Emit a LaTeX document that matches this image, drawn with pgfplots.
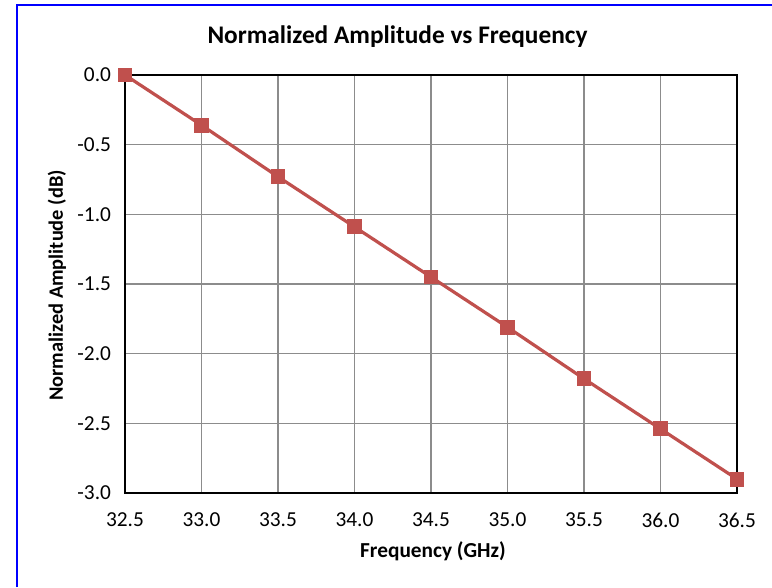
\documentclass[border=0pt]{standalone}
\usepackage{pgfplots}
\pgfplotsset{compat=1.18}
\usepackage{fontspec}
\setmainfont{Carlito}
\definecolor{exred}{RGB}{192,80,77}
\definecolor{gridgray}{RGB}{140,140,140}
\begin{document}
\begin{tikzpicture}[x=0.75pt,y=0.75pt]
\path[use as bounding box] (0,0) rectangle (772,587);
\fill[white] (0,0) rectangle (772,587);
\draw[blue, line width=1.5pt] (16.5,0) -- (16.5,582) -- (772,582);
\begin{axis}[
  at={(125*0.75pt,94*0.75pt)}, anchor=south west,
  scale only axis, width=459pt, height=313.5pt,
  xmin=32.5, xmax=36.5, ymin=-3, ymax=0,
  xtick={32.5,33,...,36.5}, ytick={-3,-2.5,...,0},
  /pgf/number format/fixed,
  /pgf/number format/fixed zerofill,
  /pgf/number format/precision=1,
  /pgf/number format/assume math mode=true,
  tick label style={font=\fontsize{16}{19}\selectfont},
  xticklabel style={yshift=-11.5pt},
  yticklabel style={xshift=-7pt},
  major tick length=0pt,
  grid=major,
  major grid style={gridgray, line width=0.8pt},
  axis line style={black, line width=1.4pt},
  clip=false,
]
\addplot[exred, line width=2.4pt, mark=square*, mark size=5.2pt, mark options={fill=exred, draw=exred, line width=0pt}]
coordinates {(32.5,0) (33,-0.36) (33.5,-0.73) (34,-1.09) (34.5,-1.45) (35,-1.81) (35.5,-2.18) (36,-2.54) (36.5,-2.90)};
\end{axis}
\node[font=\bfseries\fontsize{19}{22}\selectfont] at (397.5,550) {Normalized Amplitude vs Frequency};
\node[font=\bfseries\fontsize{16}{19}\selectfont] at (433,36) {Frequency (GHz)};
\node[font=\bfseries\fontsize{15.3}{18}\selectfont, rotate=90] at (57,301.5) {Normalized Amplitude (dB)};
\end{tikzpicture}
\end{document}
